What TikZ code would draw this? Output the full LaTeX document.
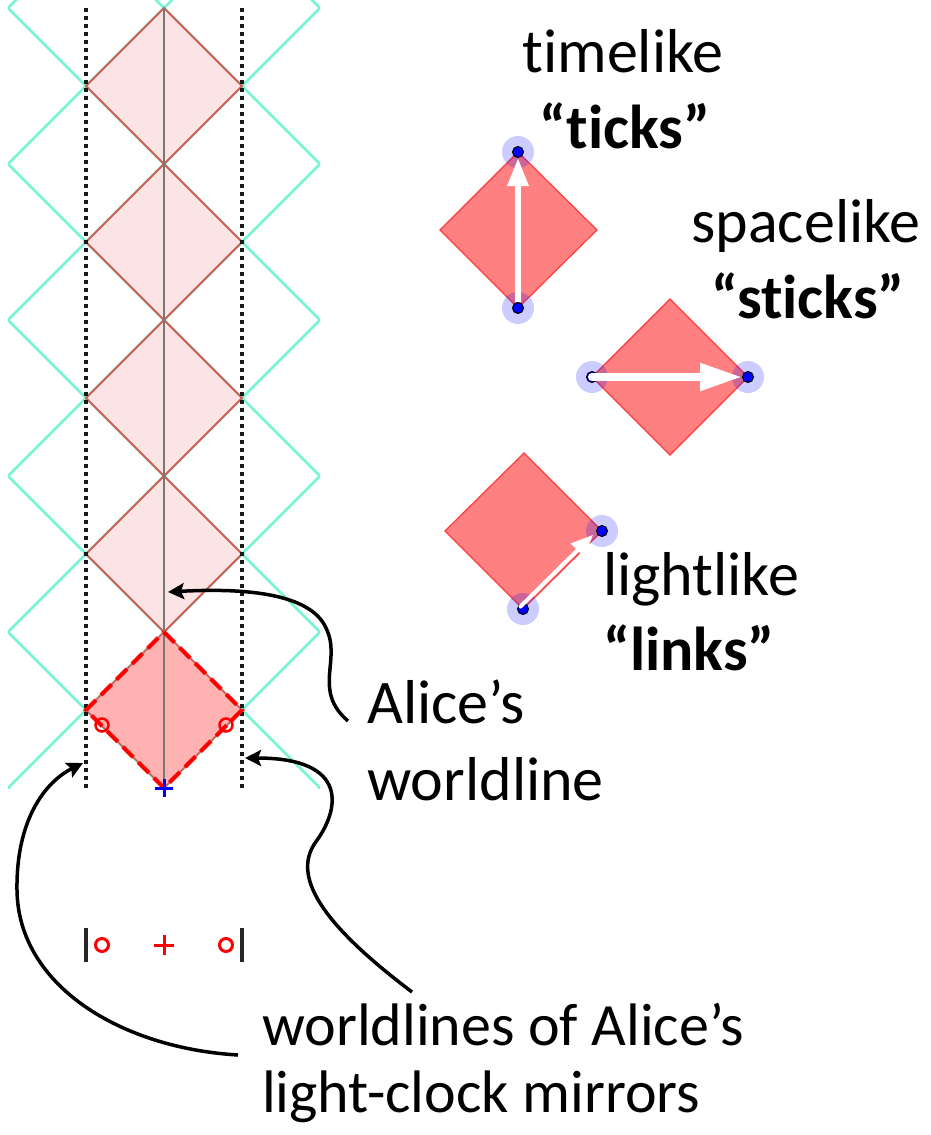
\documentclass[tikz,border=0pt]{standalone}
\usepackage{fontspec}
\setmainfont{Carlito}[Ligatures=NoCommon]
\usetikzlibrary{arrows.meta}
\definecolor{cyanl}{RGB}{120,245,212}
\definecolor{pinkl}{RGB}{253,228,228}
\definecolor{pinkedge}{RGB}{205,95,85}
\definecolor{pinkm}{RGB}{255,178,178}
\definecolor{diafill}{RGB}{255,128,128}
\definecolor{diaedge}{RGB}{255,60,60}
\definecolor{wlgray}{RGB}{120,120,120}
\definecolor{dotgray}{RGB}{25,25,25}
\begin{document}
\begin{tikzpicture}[x=1pt,y=-1pt,
  cyanline/.style={draw=cyanl,line width=2.5pt},
  lightdia/.style={fill=pinkl,draw=pinkedge,line width=2pt,line join=miter},
  mirrorline/.style={draw=dotgray,line width=3.8pt,dash pattern=on 3.5pt off 4.5pt},
  dashdia/.style={draw=red,line width=4pt,dash pattern=on 15pt off 7pt},
  legbar/.style={draw=black!85,line width=3.2pt},
  legmark/.style={draw=red,line width=3pt},
  dia/.style={fill=diafill,draw=diaedge,line width=1.2pt},
  halo/.style={fill=blue,opacity=0.2},
  dot/.style={circle,fill=blue,draw=black,line width=1pt,inner sep=0pt,minimum size=11pt},
  warrowA/.style={draw=white,line width=6pt,-{Triangle[length=28pt,width=20pt]}},
  warrowB/.style={draw=white,line width=8pt,line cap=round,-{Triangle[length=42pt,width=26pt]}},
  warrowC/.style={draw=white,line width=4pt,line cap=round,-{Triangle[length=22pt,width=18pt]}},
  callout/.style={draw=black,line width=3.5pt,-{Stealth[length=16pt,width=16pt,inset=3pt]}},
  lbl/.style={inner sep=0pt,font=\fontsize{62}{74}\selectfont},
  lblb/.style={inner sep=0pt,font=\fontsize{62}{74}\selectfont\bfseries},
  lbls/.style={inner sep=0pt,font=\fontsize{60}{70}\selectfont}]
\useasboundingbox (0,0) rectangle (930,1135);
\fill[white] (0,0) rectangle (930,1135);
% light-cone lattice
\begin{scope}
  \clip (8,0) rectangle (320,788);
  \foreach \k in {-6,...,7} {
    \draw[cyanline] ({156*\k-20},-20) -- ({156*\k+820},820);
    \draw[cyanline] ({172+156*\k+20},-20) -- ({172+156*\k-820},820);
  }
\end{scope}
% Alice's light-clock diamonds
\foreach \t in {8,164,320,476} {
  \draw[lightdia] (164,\t) -- (242,{\t+78}) -- (164,{\t+156}) -- (86,{\t+78}) -- cycle;
}
\draw[fill=pinkm,draw=pinkedge,line width=1.5pt] (164,632) -- (242,710) -- (164,788) -- (86,710) -- cycle;
% worldline and mirrors
\draw[draw=wlgray,line width=2.2pt] (164,8) -- (164,788);
\draw[mirrorline] (86,8) -- (86,790);
\draw[mirrorline] (242,8) -- (242,790);
\draw[dashdia] (164,632) -- (242,710) -- (164,788) -- (86,710) -- cycle;
\draw[draw=red,line width=2.5pt] (102,725) circle (6.5pt);
\draw[draw=red,line width=2.5pt] (226,725) circle (6.5pt);
\draw[draw=blue,line width=3pt] (155,788) -- (173,788) (164,779) -- (164,797);
% legend
\draw[legbar] (86,928) -- (86,962);
\draw[legbar] (242,928) -- (242,962);
\draw[legmark] (102,945) circle (6.5pt);
\draw[legmark] (226,945) circle (6.5pt);
\draw[legmark] (154,945) -- (174,945) (164,935) -- (164,955);
% timelike
\draw[dia] (518,152) -- (597,230) -- (518,308) -- (440,230) -- cycle;
\fill[halo] (518,152) circle (16pt);
\fill[halo] (518,308) circle (16pt);
\node[dot] (ta) at (518,152) {};
\node[dot] (tb) at (518,308) {};
\draw[warrowA] (tb.north) -- (ta.south);
% spacelike
\draw[dia] (670,299) -- (748,377) -- (670,455) -- (592,377) -- cycle;
\fill[halo] (592,377) circle (16pt);
\fill[halo] (748,377) circle (16pt);
\node[dot] (sa) at (592,377) {};
\node[dot] (sb) at (748,377) {};
\draw[warrowB,shorten >=6pt] (sa.center) -- (sb.center);
% lightlike
\draw[dia] (524,453) -- (602,531) -- (523,609) -- (445,531) -- cycle;
\fill[halo] (602,531) circle (16pt);
\fill[halo] (523,609) circle (16pt);
\node[dot] (la) at (602,531) {};
\node[dot] (lb) at (523,609) {};
\draw[warrowC,shorten >=9pt] ([shift={(-2.5pt,2.5pt)}]lb.center) -- ([shift={(-2.5pt,2.5pt)}]la.center);
% labels
\node[lbl,anchor=base] (tl) at (623,72) {t\kern0pt imelike};
\node[lblb,anchor=base] (tk) at (625,148) {“t\kern0pt icks”};
\node[lbl,anchor=base] (sl) at (806,242) {spacelike};
\node[lblb,anchor=base] (sk) at (808,318) {“st\kern0pt icks”};
\node[lbl,anchor=base west] (ll) at (603,595) {lightlike};
\node[lblb,anchor=base west] (lk) at (603,670) {“links”};
\node[lbl,anchor=base west] (al) at (367,723) {Alice’s};
\node[lbl,anchor=base west] (wl) at (367,800) {worldline};
\node[lbls,anchor=base west] (m1) at (262,1045) {worldlines of Alice’s};
\node[lbls,anchor=base west] (m2) at (262,1112) {light-clock mirrors};
% callout arrows
\coordinate (as) at (348,721);
\coordinate (aw) at (168,592);
\draw[callout] (as) .. controls (312,690) and (342,660) .. (326,628) .. controls (310,592) and (240,588) .. (aw);
\coordinate (ms1) at (238,1055);
\coordinate (mt1) at (83,763);
\draw[callout] (ms1) .. controls (120,1048) and (18,985) .. (17,890) .. controls (16,820) and (45,782) .. (mt1);
\coordinate (ms2) at (412,992);
\coordinate (mt2) at (245,758);
\draw[callout] (ms2) .. controls (330,930) and (290,880) .. (315,843) .. controls (340,810) and (350,758) .. (mt2);
\end{tikzpicture}
\end{document}
